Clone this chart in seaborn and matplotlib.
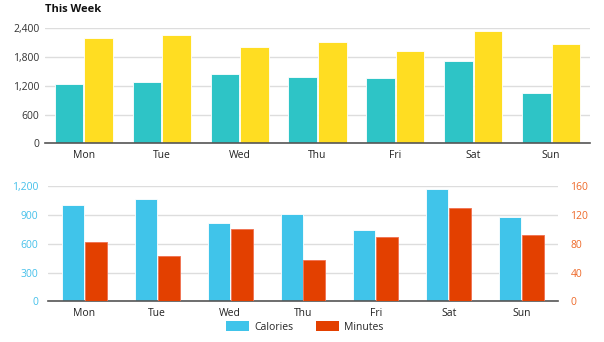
import matplotlib
matplotlib.use("Agg")
import matplotlib.pyplot as plt
import seaborn as sns
import pandas as pd
import numpy as np
from matplotlib.patches import Patch

days = ["Mon", "Tue", "Wed", "Thu", "Fri", "Sat", "Sun"]
week_a = [1231, 1286, 1446, 1384, 1369, 1711, 1043]
week_b = [2204, 2260, 2003, 2108, 1926, 2350, 2079]
calories = [1005, 1065, 818, 909, 745, 1169, 881]
minutes = [82, 63, 100, 58, 90, 129, 92]
top_ticks = [0, 600, 1200, 1800, 2400]
cal_ticks = [0, 300, 600, 900, 1200]
min_ticks = [0, 40, 80, 120, 160]

sns.set_theme(style="white")
plt.rcParams["font.family"] = ["Open Sans", "DejaVu Sans"]

TEAL, YELLOW = "#2EC4C6", "#FFDD22"
BLUE, RED = "#40C4EA", "#E34000"
GRID = "#DDDDDD"
AXIS = "#555555"

fig = plt.figure(figsize=(6.04, 3.42), dpi=100)
W, H = 604, 342
ax1 = fig.add_axes([45 / W, 1 - 143.3 / H, 545 / W, 115.5 / H])
ax2 = fig.add_axes([48 / W, 1 - 301.3 / H, 510 / W, 115.6 / H])
ax3 = ax2.twinx()

# top chart
df_top = pd.DataFrame({
    "day": days * 2,
    "value": week_a + week_b,
    "series": ["A"] * 7 + ["B"] * 7,
})
sns.barplot(data=df_top, x="day", y="value", hue="series", order=days,
            hue_order=["A", "B"], palette=[TEAL, YELLOW], width=0.76,
            gap=0.03, ax=ax1, legend=False, edgecolor="white", linewidth=0.6,
            saturation=1)
ax1.set_ylim(0, 2410)
ax1.set_yticks(top_ticks)
ax1.set_yticklabels([f"{t:,}" for t in top_ticks])
ax1.set_xlim(-0.5, 6.5)

# bottom chart: calories on the left axis, minutes on the right axis
nan7 = [np.nan] * 7
df_cal = pd.DataFrame({"day": days * 2, "value": calories + nan7,
                       "series": ["Calories"] * 7 + ["Minutes"] * 7})
df_min = pd.DataFrame({"day": days * 2, "value": nan7 + minutes,
                       "series": ["Calories"] * 7 + ["Minutes"] * 7})
pal = {"Calories": BLUE, "Minutes": RED}
sns.barplot(data=df_cal, x="day", y="value", hue="series", order=days,
            hue_order=["Calories", "Minutes"], palette=pal,
            width=0.63, gap=0.04, ax=ax2, legend=False, edgecolor="white",
            linewidth=0.6, saturation=1, errorbar=None)
sns.barplot(data=df_min, x="day", y="value", hue="series", order=days,
            hue_order=["Calories", "Minutes"], palette=pal,
            width=0.63, gap=0.04, ax=ax3, legend=False, edgecolor="#F07050",
            linewidth=0.6, saturation=1, errorbar=None)
ax2.set_ylim(0, 1205)
ax3.set_ylim(0, 160 * 1205 / 1200)
ax2.set_yticks(cal_ticks)
ax2.set_yticklabels([f"{t:,}" for t in cal_ticks])
ax3.set_yticks(min_ticks)
ax3.set_yticklabels([str(t) for t in min_ticks])
ax2.set_xlim(-0.5, 6.5)
ax3.set_xlim(-0.5, 6.5)

for ax in (ax1, ax2, ax3):
    ax.set_xlabel("")
    ax.set_ylabel("")
    for s in ["top", "left", "right"]:
        ax.spines[s].set_visible(False)
    ax.spines["bottom"].set_color(AXIS)
    ax.spines["bottom"].set_linewidth(1.2)
    ax.tick_params(length=0, labelsize=7.5, pad=4)

for ax in (ax1, ax2):
    ax.set_axisbelow(True)
    ax.yaxis.grid(True, color=GRID, linewidth=1)
    ax.tick_params(axis="x", colors="#222222", pad=5)

ax1.tick_params(axis="y", colors="#333333")
ax2.tick_params(axis="y", colors="#45C0EA", pad=7)
ax3.tick_params(axis="y", colors="#EE6A2A", pad=9)
ax3.spines["bottom"].set_visible(False)

fig.text(45 / W, 1 - 9 / H, "This Week", fontsize=8, fontweight="bold",
         color="#111111", va="center", ha="left")

handles = [Patch(facecolor=BLUE, edgecolor="none", label="Calories"),
           Patch(facecolor=RED, edgecolor="none", label="Minutes")]
fig.legend(handles=handles, loc="center", bbox_to_anchor=(305 / W, 1 - 327 / H),
           ncol=2, frameon=False, fontsize=7.5, handlelength=2.2, handleheight=1.1,
           columnspacing=2.2, handletextpad=0.5)

fig.savefig("out.png", dpi=100)
